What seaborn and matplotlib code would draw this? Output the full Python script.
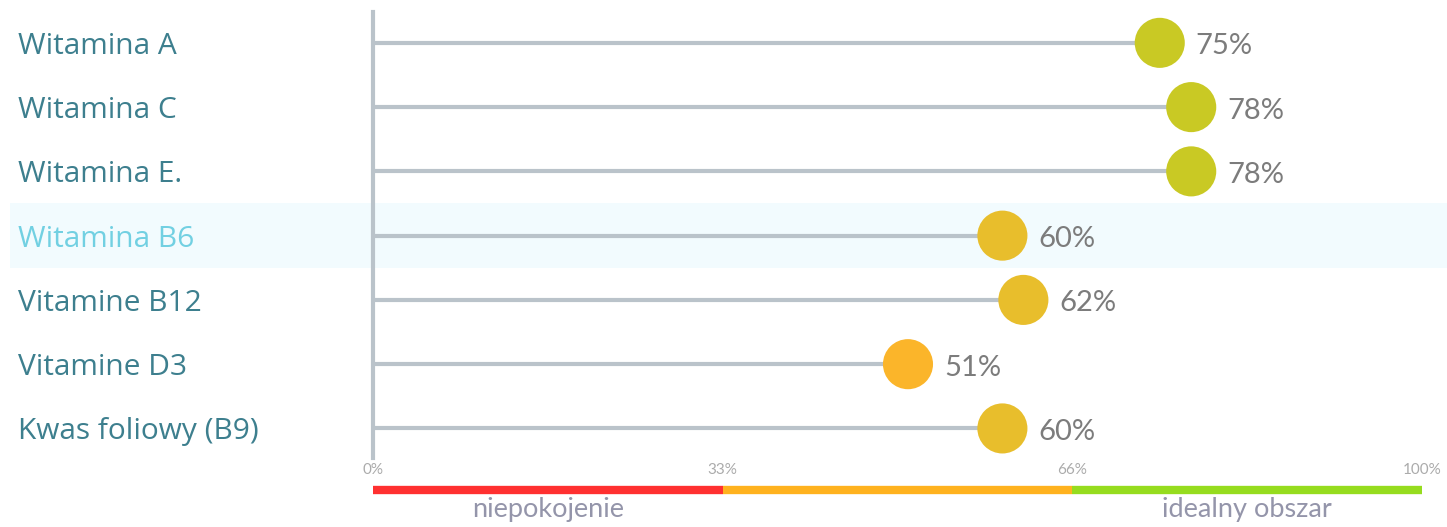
import matplotlib
matplotlib.use('Agg')
import matplotlib.pyplot as plt
import matplotlib.transforms as mtransforms
from matplotlib.patches import Rectangle
import seaborn as sns
import pandas as pd

# data
vitamins = ['Witamina A', 'Witamina C', 'Witamina E.', 'Witamina B6',
            'Vitamine B12', 'Vitamine D3', 'Kwas foliowy (B9)']
values = [75, 78, 78, 60, 62, 51, 60]
dot_colors = ['#C9C924', '#C9C924', '#C9C924', '#E8BE2C', '#E8BE2C', '#FBB52A', '#E8BE2C']
highlight = 'Witamina B6'

zone_edges = [0, 100 / 3, 200 / 3, 100]
zone_colors = ['#FF3030', '#FFB21E', '#96DC1E']
tick_pos = [0, 100 / 3, 200 / 3, 100]
tick_labels = ['0%', '33%', '66%', '100%']

df = pd.DataFrame({'vitamin': vitamins, 'value': values})
df['row'] = range(len(df))

sns.set_style('white')
W, H = 1447, 527
fig = plt.figure(figsize=(W / 100, H / 100), dpi=100)

left = 373 / W
width = 1049 / W
ax = fig.add_axes([left, (H - 458) / H, width, 446 / H])
ax.patch.set_visible(False)

# highlighted row band
band_top, band_bot = 203, 268
fig.add_artist(Rectangle((10 / W, (H - band_bot) / H), (W - 10) / W, (band_bot - band_top) / H,
                         transform=fig.transFigure, facecolor='#F2FBFE', edgecolor='none', zorder=0))

ax.hlines(df['row'], 0, df['value'], color='#BAC3CA', lw=3, zorder=1)
sns.scatterplot(data=df, x='value', y='row', hue='vitamin',
                palette=dict(zip(vitamins, dot_colors)), s=1300,
                edgecolor=None, linewidth=0, legend=False, ax=ax, zorder=3, clip_on=False)

for r, v in zip(df['row'], df['value']):
    ax.annotate(f'{v}%', (v, r), xytext=(26, -2.5), textcoords='offset points',
                va='center', ha='left', fontsize=21, color='#7C7C7C', family='Lato')

trans = mtransforms.blended_transform_factory(fig.transFigure, ax.transData)
for r, name in zip(df['row'], df['vitamin']):
    col = '#72D0E2' if name == highlight else '#3D7F8E'
    ax.annotate(name, (18 / W, r), xycoords=trans, xytext=(0, -2.5), textcoords='offset points',
                ha='left', va='center', fontsize=21.5, color=col, family='Open Sans')

ax.set_xlim(0, 100)
ax.set_ylim(6.46, -0.48)
ax.set_xticks([])
ax.set_yticks([])
ax.set_xlabel('')
ax.set_ylabel('')
for s in ['top', 'right', 'bottom']:
    ax.spines[s].set_visible(False)
ax.spines['left'].set_color('#BAC3CA')
ax.spines['left'].set_linewidth(3)

# scale strip under the chart
ax2 = fig.add_axes([left, 0, width, 69 / H])
ax2.set_xlim(0, 100)
ax2.set_ylim(69, 0)
ax2.axis('off')
for p, lab in zip(tick_pos, tick_labels):
    ax2.text(p, 12, lab, ha='center', va='center', fontsize=11, color='#ABABAB', family='Lato')
for a, b, c in zip(zone_edges[:-1], zone_edges[1:], zone_colors):
    ax2.plot([a, b], [32, 32], color=c, lw=6, solid_capstyle='butt', clip_on=False)
ax2.text((zone_edges[0] + zone_edges[1]) / 2, 52, 'niepokojenie', ha='center', va='center',
         fontsize=19.5, color='#9495AA', family='Lato')
ax2.text((zone_edges[2] + zone_edges[3]) / 2, 52, 'idealny obszar', ha='center', va='center',
         fontsize=19.5, color='#9495AA', family='Lato')

fig.savefig('out.png', dpi=100)
